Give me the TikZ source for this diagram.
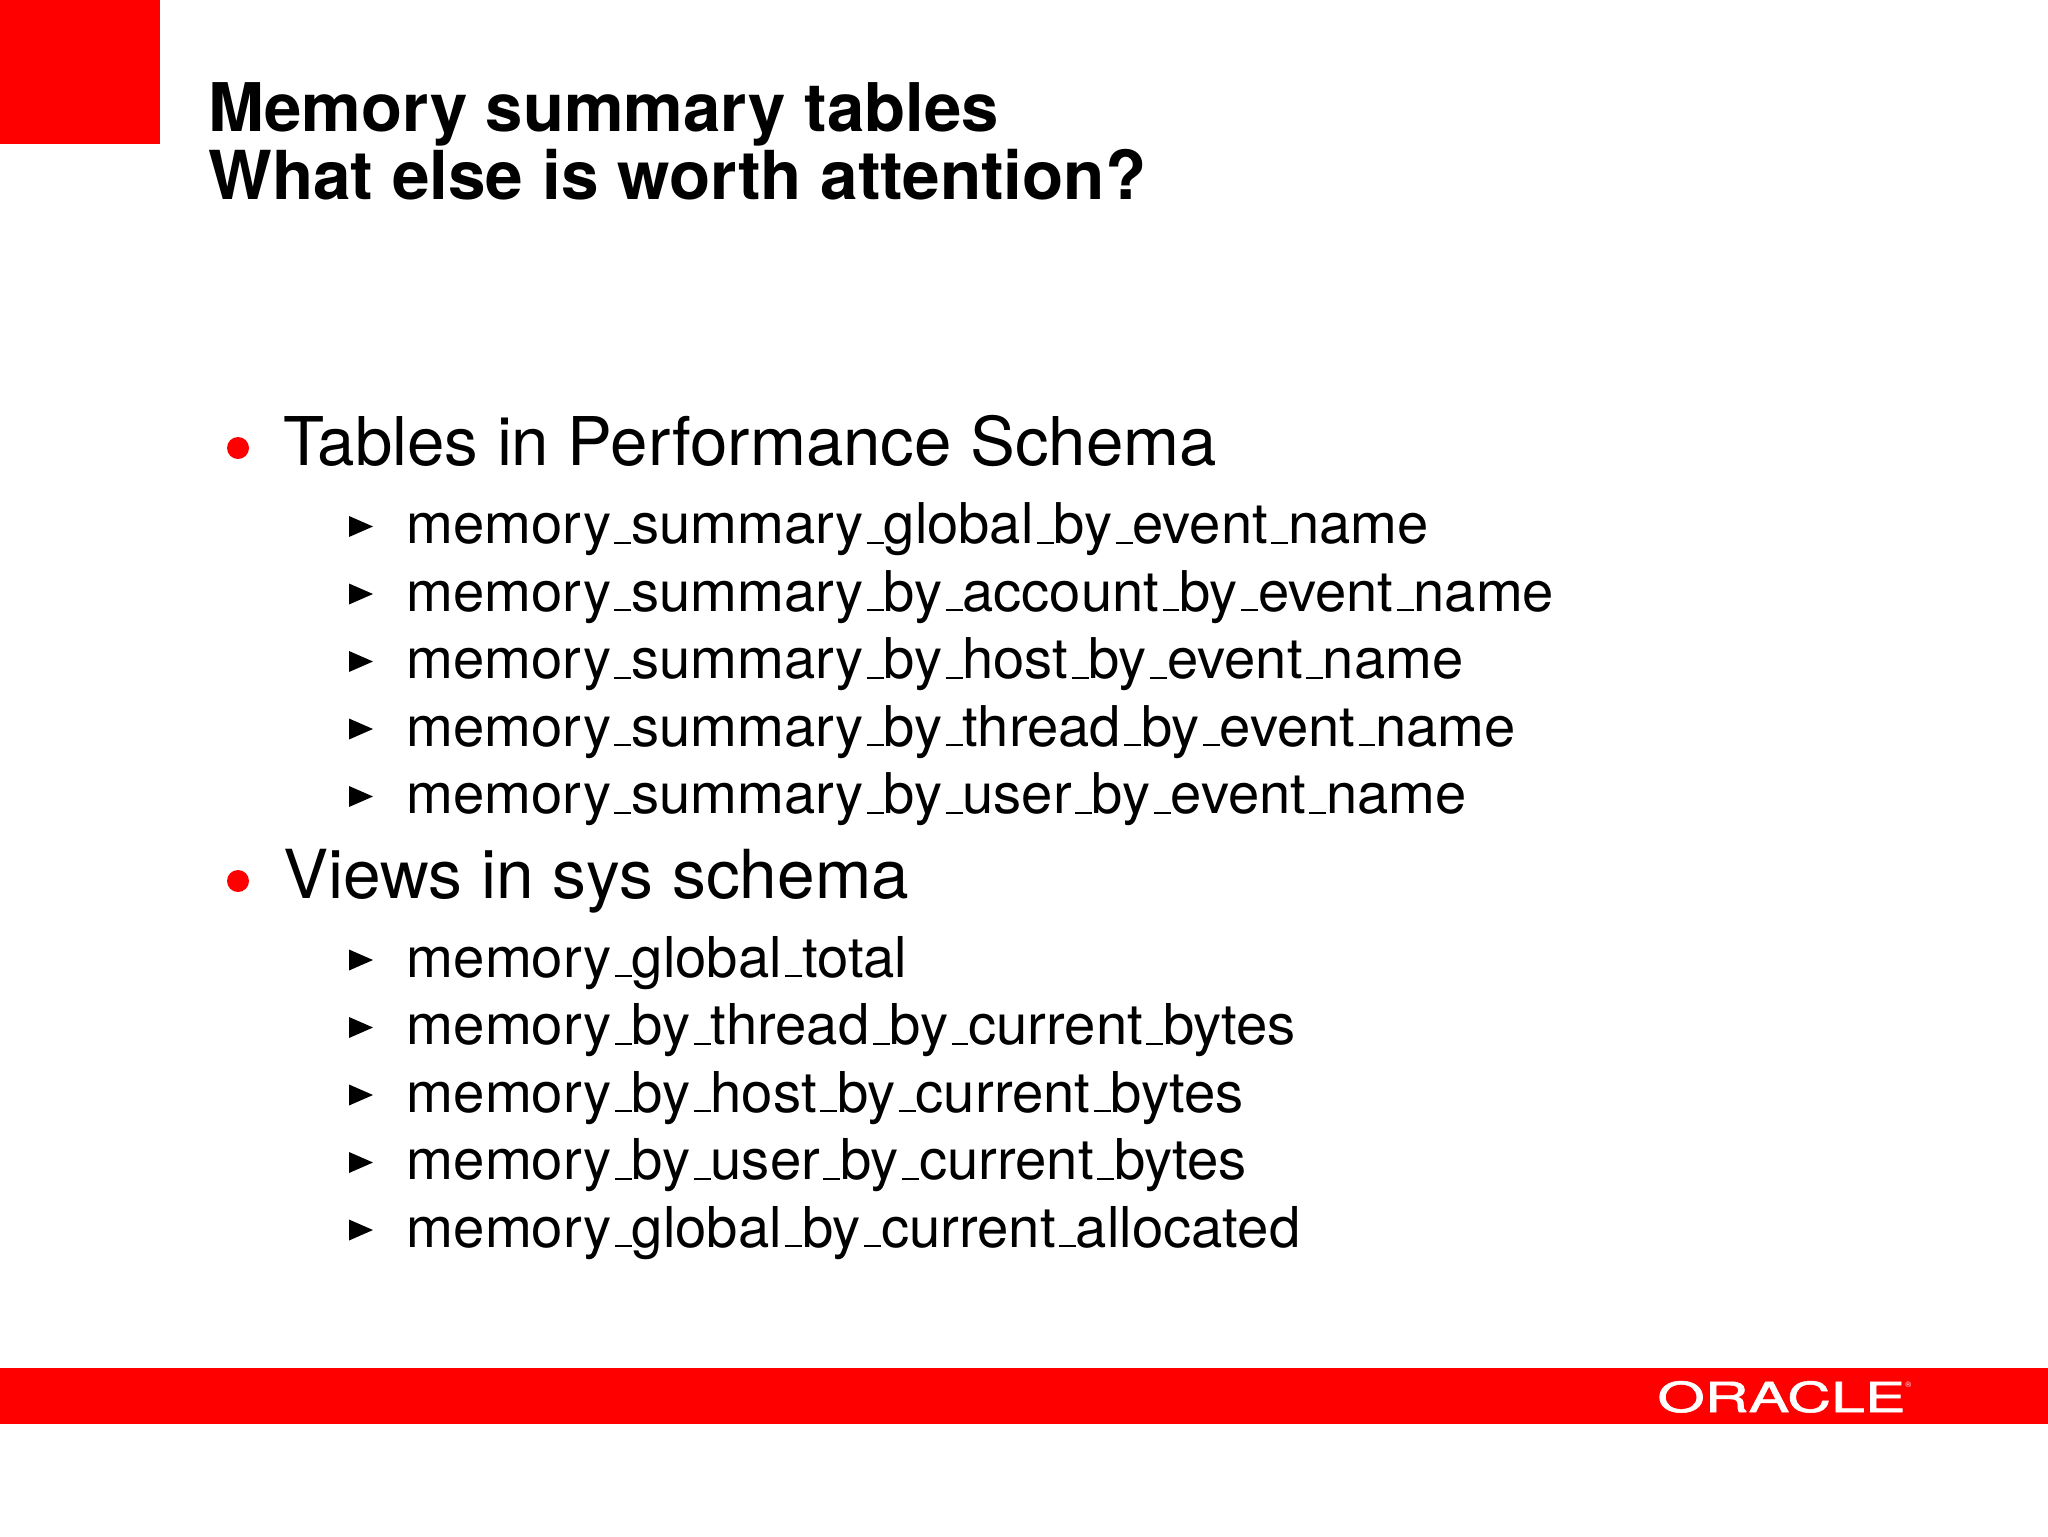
\documentclass[tikz,border=0pt]{standalone}
\usepackage{fontspec}
\setmainfont{TeX Gyre Heros}
\newfontfamily\logofont[FakeBold=1.2]{TeX Gyre Heros}
\definecolor{slidered}{RGB}{255,0,0}
\newcommand{\us}{\kern.06em\vbox{\hrule height 0.9pt width.3em}}
\tikzset{
  slidetitle/.style={anchor=base west,inner sep=0pt,font=\fontsize{33.75}{40}\selectfont\bfseries},
  mainitem/.style={anchor=base west,inner sep=0pt,font=\fontsize{33.6}{40}\selectfont},
  subitem/.style={anchor=base west,inner sep=0pt,font=\fontsize{28.08}{34}\selectfont},
  subitemb/.style={subitem,font=\fontsize{28.14}{34}\selectfont},
  redbullet/.style={fill=slidered,draw=none},
  tribullet/.style={fill=black,draw=none},
}
\newcommand{\tri}[1]{\fill[tribullet] (349,#1-10.5) -- (373,#1) -- (349,#1+10.5) -- cycle;}
\begin{document}
\begin{tikzpicture}[x=0.5pt,y=-0.5pt]
\useasboundingbox (0,0) rectangle (2048,1536);
\fill[white] (0,0) rectangle (2048,1536);
\fill[slidered] (0,0) rectangle (160,144);
\fill[slidered] (0,1367.5) rectangle (2048,1424);
\node[anchor=base west,inner sep=0pt,text=white] (logo) at (1657,1412) {\resizebox{124pt}{15.5pt}{\logofont ORACLE}};
\node[anchor=base west,inner sep=0pt,text=white,font=\fontsize{4}{4}\selectfont] (reg) at (1905,1387) {\textregistered};
\node[slidetitle,font=\fontsize{33.55}{40}\selectfont\bfseries] (t1) at (208,132) {Memory summary tables};
\node[slidetitle] (t2) at (208,199) {What else is worth attention?};
\fill[redbullet] (238,448) circle (11);
\node[mainitem] (m1) at (283,465) {Tables in Performance Schema};
\fill[redbullet] (238,881) circle (11);
\node[mainitem,font=\fontsize{33.8}{40}\selectfont] (m2) at (283,898) {Views in sys schema};
\tri{526.5}\node[subitem] (a1) at (406.5,543.5) {memory\us summary\us global\us by\us event\us name};
\tri{594}\node[subitem] (a2) at (406.5,611) {memory\us summary\us by\us account\us by\us event\us name};
\tri{661.5}\node[subitem] (a3) at (406.5,678.5) {memory\us summary\us by\us host\us by\us event\us name};
\tri{729}\node[subitem] (a4) at (406.5,746) {memory\us summary\us by\us thread\us by\us event\us name};
\tri{796.5}\node[subitem] (a5) at (406.5,813.5) {memory\us summary\us by\us user\us by\us event\us name};
\tri{960}\node[subitemb] (b1) at (406.5,977) {memory\us global\us total};
\tri{1027.5}\node[subitemb] (b2) at (406.5,1044.5) {memory\us by\us thread\us by\us current\us bytes};
\tri{1095}\node[subitemb] (b3) at (406.5,1112) {memory\us by\us host\us by\us current\us bytes};
\tri{1162.5}\node[subitemb] (b4) at (406.5,1179.5) {memory\us by\us user\us by\us current\us bytes};
\tri{1230}\node[subitemb] (b5) at (406.5,1247) {memory\us global\us by\us current\us allocated};
\end{tikzpicture}
\end{document}
